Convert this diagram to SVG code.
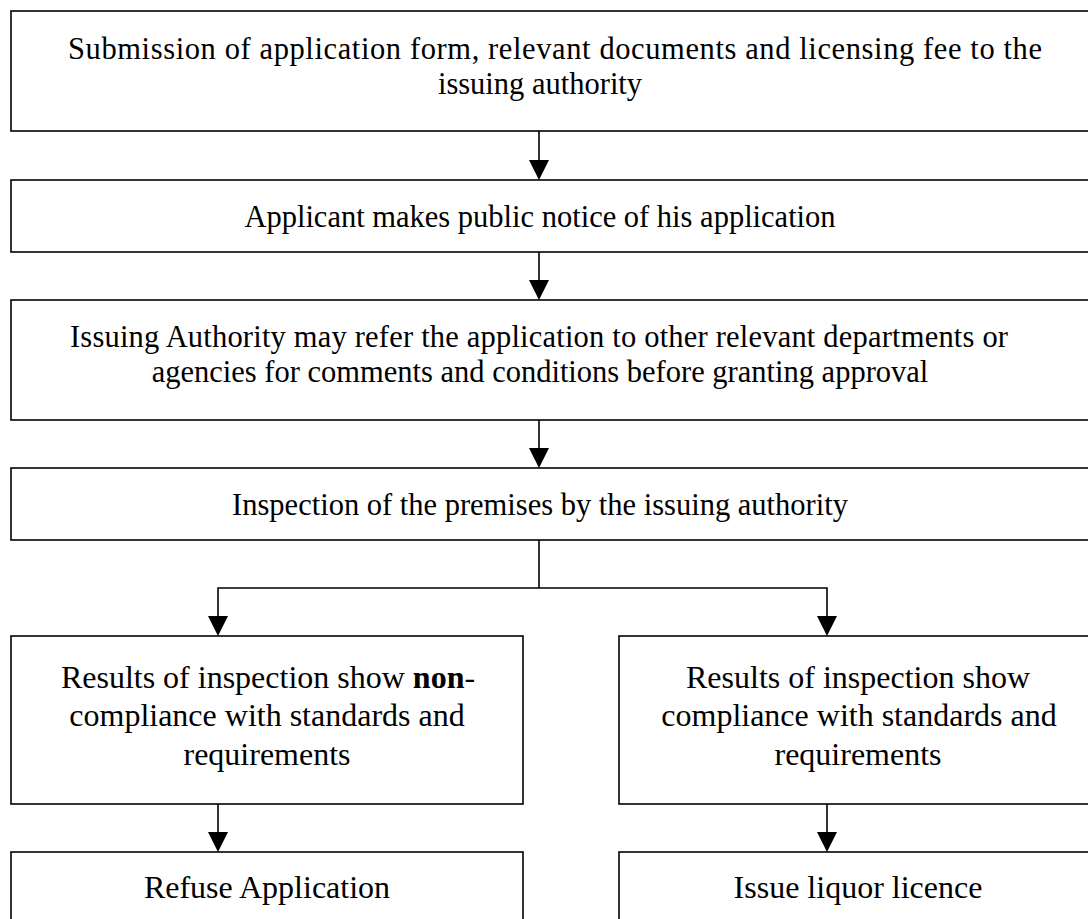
<svg xmlns="http://www.w3.org/2000/svg" width="1088" height="919" viewBox="0 0 1088 919">
  <style>
    .box { fill: #ffffff; stroke: #000000; stroke-width: 1.6; }
    .lbl { font-family: "Liberation Serif", "Times New Roman", serif; font-size: 30.5px; fill: #000000; text-anchor: middle; }
    .lbl-lg { font-size: 32px; }
    .wire { fill: none; stroke: #000000; stroke-width: 1.6; }
    .head { fill: #000000; stroke: none; }
  </style>
  <defs>
    <!-- downward arrowhead, tip at origin -->
    <polygon id="tip" class="head" points="-10,-20 10,-20 0,0"/>
  </defs>
  <rect width="1088" height="919" fill="#ffffff"/>

  <g id="submission">
    <rect class="box" x="11" y="11" width="1100" height="120"/>
    <text class="lbl" x="555" y="59" textLength="974" lengthAdjust="spacing">Submission of application form, relevant documents and licensing fee to the</text>
    <text class="lbl" x="540" y="94">issuing authority</text>
  </g>

  <g id="public-notice">
    <rect class="box" x="11" y="180" width="1100" height="72"/>
    <text class="lbl" x="540" y="227">Applicant makes public notice of his application</text>
  </g>

  <g id="referral">
    <rect class="box" x="11" y="300" width="1100" height="120"/>
    <text class="lbl" x="539" y="347" textLength="938" lengthAdjust="spacing">Issuing Authority may refer the application to other relevant departments or</text>
    <text class="lbl" x="540" y="382">agencies for comments and conditions before granting approval</text>
  </g>

  <g id="inspection">
    <rect class="box" x="11" y="468" width="1100" height="72"/>
    <text class="lbl" x="540" y="515">Inspection of the premises by the issuing authority</text>
  </g>

  <g id="non-compliance">
    <rect class="box" x="11" y="636" width="512" height="168"/>
    <text class="lbl lbl-lg" x="268" y="688">Results of inspection show <tspan font-weight="bold">non</tspan>-</text>
    <text class="lbl lbl-lg" x="267" y="726">compliance with standards and</text>
    <text class="lbl lbl-lg" x="267" y="765">requirements</text>
  </g>

  <g id="compliance">
    <rect class="box" x="619" y="636" width="480" height="168"/>
    <text class="lbl lbl-lg" x="858" y="688">Results of inspection show</text>
    <text class="lbl lbl-lg" x="859" y="726">compliance with standards and</text>
    <text class="lbl lbl-lg" x="858" y="765">requirements</text>
  </g>

  <g id="refuse">
    <rect class="box" x="11" y="852" width="512" height="80"/>
    <text class="lbl lbl-lg" x="267" y="898">Refuse Application</text>
  </g>

  <g id="issue-licence">
    <rect class="box" x="619" y="852" width="480" height="80"/>
    <text class="lbl lbl-lg" x="858" y="898">Issue liquor licence</text>
  </g>

  <g id="connectors">
    <line class="wire" x1="539" y1="131" x2="539" y2="161"/>
    <use href="#tip" x="539" y="180"/>
    <line class="wire" x1="539" y1="252" x2="539" y2="281"/>
    <use href="#tip" x="539" y="300"/>
    <line class="wire" x1="539" y1="420" x2="539" y2="449"/>
    <use href="#tip" x="539" y="468"/>
    <polyline class="wire" points="539,540 539,588"/>
    <polyline class="wire" points="218,617 218,588 827,588 827,617"/>
    <use href="#tip" x="218" y="636"/>
    <use href="#tip" x="827" y="636"/>
    <line class="wire" x1="218" y1="804" x2="218" y2="833"/>
    <use href="#tip" x="218" y="852"/>
    <line class="wire" x1="827" y1="804" x2="827" y2="833"/>
    <use href="#tip" x="827" y="852"/>
  </g>
</svg>
